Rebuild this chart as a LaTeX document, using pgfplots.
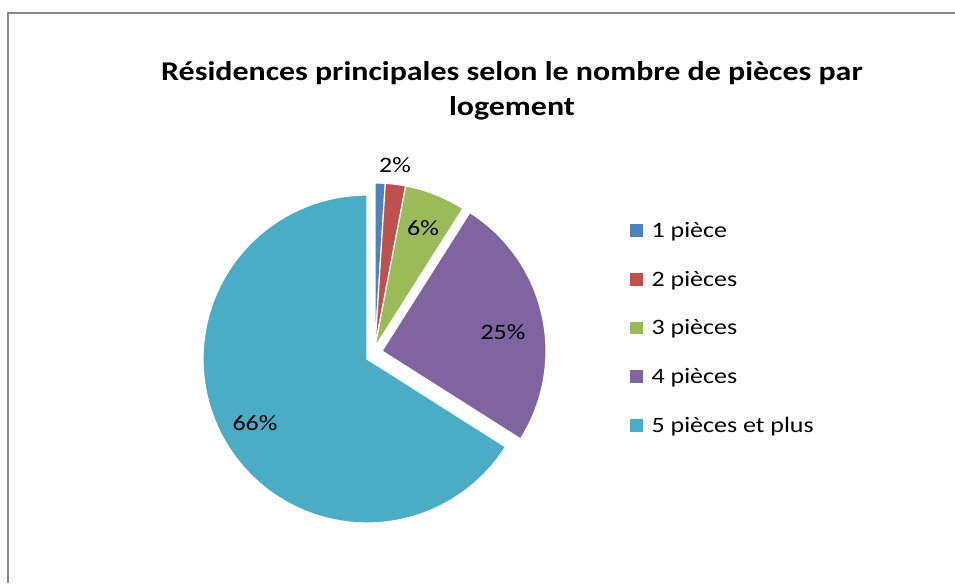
\documentclass[border=0pt]{standalone}
\usepackage{pgfplots}
\pgfplotsset{compat=1.18}
\usepackage{fontspec}
\setmainfont{Carlito}
\newfontfamily\lbl[FakeStretch=1.18]{Carlito}
\newfontfamily\ttl[FakeStretch=1.18]{Carlito}

\definecolor{c1}{HTML}{4F81BD}
\definecolor{c2}{HTML}{C0504D}
\definecolor{c3}{HTML}{9BBB59}
\definecolor{c4}{HTML}{8064A2}
\definecolor{c5}{HTML}{4BACC6}
\definecolor{frame}{HTML}{878787}

\begin{document}
\begin{tikzpicture}
\begin{axis}[
    width=716.25pt, height=437.25pt,
    scale only axis,
    xmin=0, xmax=955, ymin=0, ymax=583,
    y dir=reverse,
    hide axis,
    legend cell align=left,
    legend image code/.code={\path[#1,draw=none] (0pt,-4.5pt) rectangle (9.5pt,5pt);},
    legend style={
        draw=none, fill=none, inner sep=0pt,
        at={(axis cs:630,222)}, anchor=north west,
        font=\lbl\fontsize{16.5}{19}\selectfont,
        row sep=23.7pt, column sep=6.5pt,
        nodes={inner sep=0pt},
    },
]
% shares in percent
\pgfmathsetmacro{\va}{1}
\pgfmathsetmacro{\vb}{2}
\pgfmathsetmacro{\vc}{6}
\pgfmathsetmacro{\vd}{25}
\pgfmathsetmacro{\ve}{66}
% cumulative angles, clockwise from 12 o'clock
\pgfmathsetmacro{\aa}{0}
\pgfmathsetmacro{\ab}{\aa + 3.6*\va}
\pgfmathsetmacro{\ac}{\ab + 3.6*\vb}
\pgfmathsetmacro{\ad}{\ac + 3.6*\vc}
\pgfmathsetmacro{\ae}{\ad + 3.6*\vd}
\pgfmathsetmacro{\af}{\ae + 3.6*\ve}
\def\R{164}

\addplot[fill=c1, draw=white, line width=0.9pt, domain=\aa:\ab, samples=5, variable=\t]
    ({375 + \R*sin(\t)}, {347 - \R*cos(\t)}) -- (axis cs:375,347) -- cycle;
\addlegendentry{1 pièce}
\addplot[fill=c2, draw=white, line width=0.9pt, domain=\ab:\ac, samples=5, variable=\t]
    ({375 + \R*sin(\t)}, {347 - \R*cos(\t)}) -- (axis cs:375,347) -- cycle;
\addlegendentry{2 pièces}
\addplot[fill=c3, draw=white, line width=0.9pt, domain=\ac:\ad, samples=12, variable=\t]
    ({375 + \R*sin(\t)}, {347 - \R*cos(\t)}) -- (axis cs:375,347) -- cycle;
\addlegendentry{3 pièces}
\addplot[fill=c4, draw=white, line width=0.9pt, domain=\ad:\ae, samples=40, variable=\t]
    ({382 + \R*sin(\t)}, {351 - \R*cos(\t)}) -- (axis cs:382,351) -- cycle;
\addlegendentry{4 pièces}
\addplot[fill=c5, draw=white, line width=0.9pt, domain=\ae:\af, samples=90, variable=\t]
    ({367 + \R*sin(\t)}, {359 - \R*cos(\t)}) -- (axis cs:367,359) -- cycle;
\addlegendentry{5 pièces et plus}

% data labels
\node[font=\lbl\fontsize{16.5}{19}\selectfont] at (axis cs:395,165) {2\%};
\node[font=\lbl\fontsize{16.5}{19}\selectfont] at (axis cs:423,228) {6\%};
\node[font=\lbl\fontsize{16.5}{19}\selectfont] at (axis cs:503,332) {25\%};
\node[font=\lbl\fontsize{16.5}{19}\selectfont] at (axis cs:255,423) {66\%};

% title
\node[font=\ttl\bfseries\fontsize{20.3}{26.25}\selectfont, align=center] at (axis cs:512,91)
    {Résidences principales selon le nombre de pièces par\\logement};

% chart frame (right and bottom edges lie outside the crop)
\draw[frame, line width=1.5pt] (axis cs:8,583) -- (axis cs:8,13) -- (axis cs:955,13);
\end{axis}
\pgfresetboundingbox
\path (current axis.south west) rectangle (current axis.north east);
\end{tikzpicture}
\end{document}
